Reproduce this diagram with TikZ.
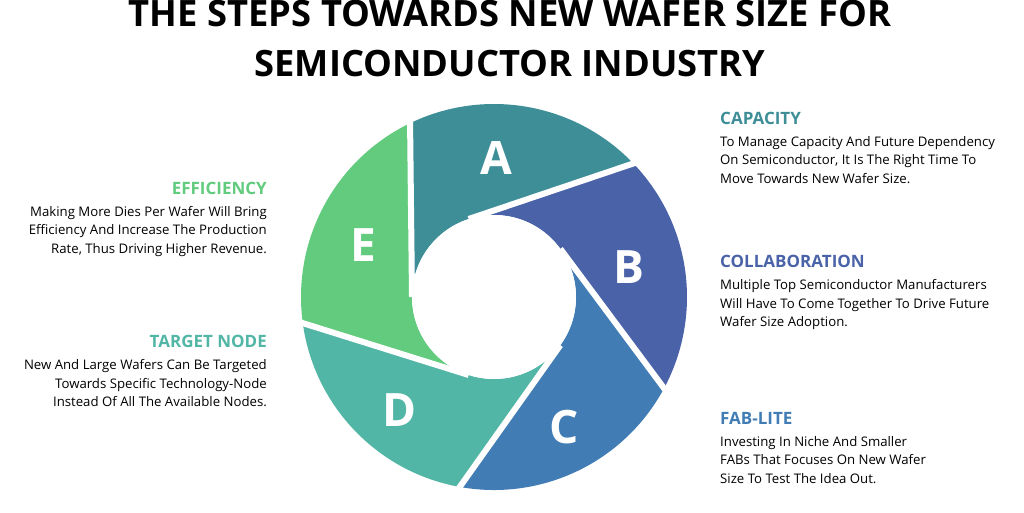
\documentclass[tikz,border=0pt]{standalone}
\usepackage{fontspec}
\setmainfont{Open Sans}
\usetikzlibrary{calc}
\begin{document}
\begin{tikzpicture}[x=1pt,y=1pt,
  body/.style={font=\fontsize{13.2}{18.7}\selectfont, inner sep=0pt},
  head/.style={font=\fontsize{17}{20}\selectfont\bfseries, inner sep=0pt},
  letter/.style={font=\fontsize{46}{46}\selectfont\bfseries, text=white},
  gap/.style={draw=white, line width=6pt}]
\definecolor{cA}{HTML}{3E8E98}
\definecolor{cB}{HTML}{4A63A8}
\definecolor{cC}{HTML}{417DB4}
\definecolor{cD}{HTML}{52B6A6}
\definecolor{cE}{HTML}{62CB7E}
\useasboundingbox (0,0) rectangle (1024,512);
\def\R{193}\def\r{82}\def\off{64.9}
\coordinate (O) at (494,215);
\foreach \t/\c in {108/cA,180/cE,252/cD,324/cC,36/cB}{
  \pgfmathsetmacro{\a}{\t-\off}
  \pgfmathsetmacro{\b}{\t+72-\off}
  \pgfmathsetmacro{\e}{\t+72}
  \fill[\c] ($(O)+(\t:\r)$) -- ($(O)+(\a:\R)$) arc[start angle=\a, end angle=\b, radius=\R]
     -- ($(O)+(\e:\r)$) arc[start angle=\e, end angle=\t, radius=\r] -- cycle;
}
\foreach \t in {36,108,180,252,324}{
  \pgfmathsetmacro{\a}{\t-\off}
  \draw[gap] ($(O)+(\t:\r)$) -- ($(O)+(\a:\R+5)$);
}
\fill[white] (O) circle (\r);
\node[letter] (A) at (496,354) {A};
\node[letter] (B) at (629,245) {B};
\node[letter] (C) at (564,85) {C};
\node[letter] (D) at (400,102) {D};
\node[letter] (E) at (363,267) {E};
\node[font=\fontsize{36.3}{50}\selectfont\bfseries, align=center] (T) at (510,473) {THE STEPS TOWARDS NEW WAFER SIZE FOR\\SEMICONDUCTOR INDUSTRY};
\node[head, text=cA, anchor=west] (h1) at (720,394) {CAPACITY};
\node[body, anchor=north west, align=left] (b1) at (720,376) {To Manage Capacity And Future Dependency\\On Semiconductor, It Is The Right Time To\\Move Towards New Wafer Size.};
\node[head, text=cB, anchor=west] (h2) at (720,251) {COLLABORATION};
\node[body, anchor=north west, align=left] (b2) at (720,233) {Multiple Top Semiconductor Manufacturers\\Will Have To Come Together To Drive Future\\Wafer Size Adoption.};
\node[head, text=cC, anchor=west] (h3) at (720,94) {FAB-LITE};
\node[body, anchor=north west, align=left] (b3) at (720,76) {Investing In Niche And Smaller\\FABs That Focuses On New Wafer\\Size To Test The Idea Out.};
\node[head, text=cE, anchor=east] (h4) at (267,324) {EFFICIENCY};
\node[body, anchor=north east, align=right] (b4) at (267,306) {Making More Dies Per Wafer Will Bring\\Efficiency And Increase The Production\\Rate, Thus Driving Higher Revenue.};
\node[head, text=cD, anchor=east] (h5) at (267,171) {TARGET NODE};
\node[body, anchor=north east, align=right] (b5) at (267,153) {New And Large Wafers Can Be Targeted\\Towards Specific Technology-Node\\Instead Of All The Available Nodes.};
\end{tikzpicture}
\end{document}
